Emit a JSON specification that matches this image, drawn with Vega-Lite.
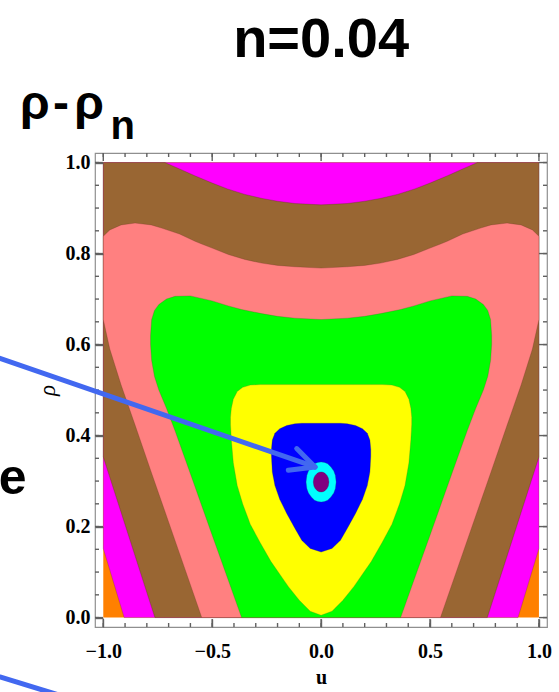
{
  "$schema": "https://vega.github.io/schema/vega-lite/v6.json",
  "width": 452,
  "height": 474,
  "autosize": "none",
  "padding": {"left": 95, "top": 153, "right": 12, "bottom": 65},
  "background": "white",
  "config": {"view": {"stroke": "#8f8f8f", "strokeWidth": 1.2}},
  "datasets": {
    "regions": [
      {"r": "L9", "u": -1, "lo": 0, "hi": 1},
      {"r": "L9", "u": 1, "lo": 0, "hi": 1},
      {"r": "L8", "u": -1, "lo": 0.152, "hi": 1},
      {"r": "L8", "u": -0.904, "lo": 0, "hi": 1},
      {"r": "L8", "u": 0.904, "lo": 0, "hi": 1},
      {"r": "L8", "u": 1, "lo": 0.152, "hi": 1},
      {"r": "L7", "u": -1, "lo": 0.353, "hi": 1},
      {"r": "L7", "u": -0.763, "lo": 0, "hi": 1},
      {"r": "L7", "u": -0.717, "lo": 0, "hi": 1},
      {"r": "L7", "u": -0.65, "lo": 0, "hi": 0.986},
      {"r": "L7", "u": -0.58, "lo": 0, "hi": 0.971},
      {"r": "L7", "u": -0.5, "lo": 0, "hi": 0.955},
      {"r": "L7", "u": -0.43, "lo": 0, "hi": 0.942},
      {"r": "L7", "u": -0.35, "lo": 0, "hi": 0.930},
      {"r": "L7", "u": -0.27, "lo": 0, "hi": 0.921},
      {"r": "L7", "u": -0.2, "lo": 0, "hi": 0.915},
      {"r": "L7", "u": -0.12, "lo": 0, "hi": 0.910},
      {"r": "L7", "u": 0, "lo": 0, "hi": 0.907},
      {"r": "L7", "u": 0.12, "lo": 0, "hi": 0.910},
      {"r": "L7", "u": 0.2, "lo": 0, "hi": 0.915},
      {"r": "L7", "u": 0.27, "lo": 0, "hi": 0.921},
      {"r": "L7", "u": 0.35, "lo": 0, "hi": 0.930},
      {"r": "L7", "u": 0.43, "lo": 0, "hi": 0.942},
      {"r": "L7", "u": 0.5, "lo": 0, "hi": 0.955},
      {"r": "L7", "u": 0.58, "lo": 0, "hi": 0.971},
      {"r": "L7", "u": 0.65, "lo": 0, "hi": 0.986},
      {"r": "L7", "u": 0.717, "lo": 0, "hi": 1},
      {"r": "L7", "u": 0.763, "lo": 0, "hi": 1},
      {"r": "L7", "u": 1, "lo": 0.353, "hi": 1},
      {"r": "L6", "u": -1, "lo": 0.655, "hi": 0.838},
      {"r": "L6", "u": -0.97, "lo": 0.59, "hi": 0.852},
      {"r": "L6", "u": -0.918, "lo": 0.511, "hi": 0.863},
      {"r": "L6", "u": -0.854, "lo": 0.423, "hi": 0.867},
      {"r": "L6", "u": -0.78, "lo": 0.320, "hi": 0.863},
      {"r": "L6", "u": -0.732, "lo": 0.254, "hi": 0.856},
      {"r": "L6", "u": -0.65, "lo": 0.141, "hi": 0.843},
      {"r": "L6", "u": -0.579, "lo": 0.043, "hi": 0.827},
      {"r": "L6", "u": -0.548, "lo": 0, "hi": 0.821},
      {"r": "L6", "u": -0.5, "lo": 0, "hi": 0.812},
      {"r": "L6", "u": -0.426, "lo": 0, "hi": 0.798},
      {"r": "L6", "u": -0.35, "lo": 0, "hi": 0.787},
      {"r": "L6", "u": -0.273, "lo": 0, "hi": 0.779},
      {"r": "L6", "u": -0.2, "lo": 0, "hi": 0.774},
      {"r": "L6", "u": -0.12, "lo": 0, "hi": 0.771},
      {"r": "L6", "u": 0, "lo": 0, "hi": 0.768},
      {"r": "L6", "u": 0.12, "lo": 0, "hi": 0.771},
      {"r": "L6", "u": 0.2, "lo": 0, "hi": 0.774},
      {"r": "L6", "u": 0.273, "lo": 0, "hi": 0.779},
      {"r": "L6", "u": 0.35, "lo": 0, "hi": 0.787},
      {"r": "L6", "u": 0.426, "lo": 0, "hi": 0.798},
      {"r": "L6", "u": 0.5, "lo": 0, "hi": 0.812},
      {"r": "L6", "u": 0.548, "lo": 0, "hi": 0.821},
      {"r": "L6", "u": 0.579, "lo": 0.043, "hi": 0.827},
      {"r": "L6", "u": 0.65, "lo": 0.141, "hi": 0.843},
      {"r": "L6", "u": 0.732, "lo": 0.254, "hi": 0.856},
      {"r": "L6", "u": 0.78, "lo": 0.320, "hi": 0.863},
      {"r": "L6", "u": 0.854, "lo": 0.423, "hi": 0.867},
      {"r": "L6", "u": 0.918, "lo": 0.511, "hi": 0.863},
      {"r": "L6", "u": 0.97, "lo": 0.59, "hi": 0.852},
      {"r": "L6", "u": 1, "lo": 0.655, "hi": 0.838},
      {"r": "L5", "u": -0.783, "lo": 0.60, "hi": 0.62},
      {"r": "L5", "u": -0.778, "lo": 0.565, "hi": 0.655},
      {"r": "L5", "u": -0.765, "lo": 0.53, "hi": 0.675},
      {"r": "L5", "u": -0.745, "lo": 0.50, "hi": 0.688},
      {"r": "L5", "u": -0.71, "lo": 0.46, "hi": 0.700},
      {"r": "L5", "u": -0.671, "lo": 0.411, "hi": 0.706},
      {"r": "L5", "u": -0.6, "lo": 0.316, "hi": 0.707},
      {"r": "L5", "u": -0.5, "lo": 0.181, "hi": 0.696},
      {"r": "L5", "u": -0.426, "lo": 0.082, "hi": 0.685},
      {"r": "L5", "u": -0.365, "lo": 0, "hi": 0.677},
      {"r": "L5", "u": -0.273, "lo": 0, "hi": 0.668},
      {"r": "L5", "u": -0.2, "lo": 0, "hi": 0.662},
      {"r": "L5", "u": -0.12, "lo": 0, "hi": 0.658},
      {"r": "L5", "u": 0, "lo": 0, "hi": 0.655},
      {"r": "L5", "u": 0.12, "lo": 0, "hi": 0.658},
      {"r": "L5", "u": 0.2, "lo": 0, "hi": 0.662},
      {"r": "L5", "u": 0.273, "lo": 0, "hi": 0.668},
      {"r": "L5", "u": 0.365, "lo": 0, "hi": 0.677},
      {"r": "L5", "u": 0.426, "lo": 0.082, "hi": 0.685},
      {"r": "L5", "u": 0.5, "lo": 0.181, "hi": 0.696},
      {"r": "L5", "u": 0.6, "lo": 0.316, "hi": 0.707},
      {"r": "L5", "u": 0.671, "lo": 0.411, "hi": 0.706},
      {"r": "L5", "u": 0.71, "lo": 0.46, "hi": 0.700},
      {"r": "L5", "u": 0.745, "lo": 0.50, "hi": 0.688},
      {"r": "L5", "u": 0.765, "lo": 0.53, "hi": 0.675},
      {"r": "L5", "u": 0.778, "lo": 0.565, "hi": 0.655},
      {"r": "L5", "u": 0.783, "lo": 0.60, "hi": 0.62},
      {"r": "L4", "u": -0.416, "lo": 0.425, "hi": 0.44},
      {"r": "L4", "u": -0.412, "lo": 0.39, "hi": 0.46},
      {"r": "L4", "u": -0.403, "lo": 0.34, "hi": 0.48},
      {"r": "L4", "u": -0.385, "lo": 0.29, "hi": 0.497},
      {"r": "L4", "u": -0.36, "lo": 0.25, "hi": 0.506},
      {"r": "L4", "u": -0.325, "lo": 0.205, "hi": 0.511},
      {"r": "L4", "u": -0.28, "lo": 0.165, "hi": 0.512},
      {"r": "L4", "u": -0.23, "lo": 0.123, "hi": 0.512},
      {"r": "L4", "u": -0.15, "lo": 0.068, "hi": 0.512},
      {"r": "L4", "u": -0.1, "lo": 0.038, "hi": 0.512},
      {"r": "L4", "u": -0.05, "lo": 0.014, "hi": 0.512},
      {"r": "L4", "u": 0, "lo": 0.005, "hi": 0.512},
      {"r": "L4", "u": 0.05, "lo": 0.014, "hi": 0.512},
      {"r": "L4", "u": 0.1, "lo": 0.038, "hi": 0.512},
      {"r": "L4", "u": 0.15, "lo": 0.068, "hi": 0.512},
      {"r": "L4", "u": 0.23, "lo": 0.123, "hi": 0.512},
      {"r": "L4", "u": 0.28, "lo": 0.165, "hi": 0.512},
      {"r": "L4", "u": 0.325, "lo": 0.205, "hi": 0.511},
      {"r": "L4", "u": 0.36, "lo": 0.25, "hi": 0.506},
      {"r": "L4", "u": 0.385, "lo": 0.29, "hi": 0.497},
      {"r": "L4", "u": 0.403, "lo": 0.34, "hi": 0.48},
      {"r": "L4", "u": 0.412, "lo": 0.39, "hi": 0.46},
      {"r": "L4", "u": 0.416, "lo": 0.425, "hi": 0.44},
      {"r": "L3", "u": -0.228, "lo": 0.355, "hi": 0.37},
      {"r": "L3", "u": -0.224, "lo": 0.32, "hi": 0.39},
      {"r": "L3", "u": -0.212, "lo": 0.29, "hi": 0.405},
      {"r": "L3", "u": -0.19, "lo": 0.26, "hi": 0.415},
      {"r": "L3", "u": -0.158, "lo": 0.229, "hi": 0.422},
      {"r": "L3", "u": -0.12, "lo": 0.196, "hi": 0.426},
      {"r": "L3", "u": -0.089, "lo": 0.17, "hi": 0.427},
      {"r": "L3", "u": -0.05, "lo": 0.152, "hi": 0.427},
      {"r": "L3", "u": 0, "lo": 0.144, "hi": 0.427},
      {"r": "L3", "u": 0.05, "lo": 0.152, "hi": 0.427},
      {"r": "L3", "u": 0.089, "lo": 0.17, "hi": 0.427},
      {"r": "L3", "u": 0.12, "lo": 0.196, "hi": 0.426},
      {"r": "L3", "u": 0.158, "lo": 0.229, "hi": 0.422},
      {"r": "L3", "u": 0.19, "lo": 0.26, "hi": 0.415},
      {"r": "L3", "u": 0.212, "lo": 0.29, "hi": 0.405},
      {"r": "L3", "u": 0.224, "lo": 0.32, "hi": 0.39},
      {"r": "L3", "u": 0.228, "lo": 0.355, "hi": 0.37},
      {"r": "L2", "u": -0.069, "lo": 0.298, "hi": 0.298},
      {"r": "L2", "u": -0.065, "lo": 0.283, "hi": 0.313},
      {"r": "L2", "u": -0.058, "lo": 0.274, "hi": 0.322},
      {"r": "L2", "u": -0.045, "lo": 0.265, "hi": 0.331},
      {"r": "L2", "u": -0.03, "lo": 0.258, "hi": 0.338},
      {"r": "L2", "u": -0.015, "lo": 0.255, "hi": 0.341},
      {"r": "L2", "u": 0, "lo": 0.254, "hi": 0.342},
      {"r": "L2", "u": 0.015, "lo": 0.255, "hi": 0.341},
      {"r": "L2", "u": 0.03, "lo": 0.258, "hi": 0.338},
      {"r": "L2", "u": 0.045, "lo": 0.265, "hi": 0.331},
      {"r": "L2", "u": 0.058, "lo": 0.274, "hi": 0.322},
      {"r": "L2", "u": 0.065, "lo": 0.283, "hi": 0.313},
      {"r": "L2", "u": 0.069, "lo": 0.298, "hi": 0.298},
      {"r": "L1", "u": -0.036, "lo": 0.298, "hi": 0.298},
      {"r": "L1", "u": -0.033, "lo": 0.289, "hi": 0.307},
      {"r": "L1", "u": -0.027, "lo": 0.2835, "hi": 0.3125},
      {"r": "L1", "u": -0.018, "lo": 0.279, "hi": 0.317},
      {"r": "L1", "u": -0.009, "lo": 0.2767, "hi": 0.3193},
      {"r": "L1", "u": 0, "lo": 0.276, "hi": 0.320},
      {"r": "L1", "u": 0.009, "lo": 0.2767, "hi": 0.3193},
      {"r": "L1", "u": 0.018, "lo": 0.279, "hi": 0.317},
      {"r": "L1", "u": 0.027, "lo": 0.2835, "hi": 0.3125},
      {"r": "L1", "u": 0.033, "lo": 0.289, "hi": 0.307},
      {"r": "L1", "u": 0.036, "lo": 0.298, "hi": 0.298}
    ],
    "xt": [
      {"v": -1, "major": 1}, {"v": -0.9, "major": 0}, {"v": -0.8, "major": 0}, {"v": -0.7, "major": 0}, {"v": -0.6, "major": 0},
      {"v": -0.5, "major": 1}, {"v": -0.4, "major": 0}, {"v": -0.3, "major": 0}, {"v": -0.2, "major": 0}, {"v": -0.1, "major": 0},
      {"v": 0, "major": 1}, {"v": 0.1, "major": 0}, {"v": 0.2, "major": 0}, {"v": 0.3, "major": 0}, {"v": 0.4, "major": 0},
      {"v": 0.5, "major": 1}, {"v": 0.6, "major": 0}, {"v": 0.7, "major": 0}, {"v": 0.8, "major": 0}, {"v": 0.9, "major": 0},
      {"v": 1, "major": 1}
    ],
    "yt": [
      {"v": 0, "major": 1}, {"v": 0.05, "major": 0}, {"v": 0.1, "major": 0}, {"v": 0.15, "major": 0},
      {"v": 0.2, "major": 1}, {"v": 0.25, "major": 0}, {"v": 0.3, "major": 0}, {"v": 0.35, "major": 0},
      {"v": 0.4, "major": 1}, {"v": 0.45, "major": 0}, {"v": 0.5, "major": 0}, {"v": 0.55, "major": 0},
      {"v": 0.6, "major": 1}, {"v": 0.65, "major": 0}, {"v": 0.7, "major": 0}, {"v": 0.75, "major": 0},
      {"v": 0.8, "major": 1}, {"v": 0.85, "major": 0}, {"v": 0.9, "major": 0}, {"v": 0.95, "major": 0},
      {"v": 1, "major": 1}
    ],
    "arrows": [
      {"u": -1.4743, "lo": 0.5699, "u2": -0.028, "hi": 0.331},
      {"u": -0.112, "lo": 0.3714, "u2": -0.028, "hi": 0.331},
      {"u": -0.1506, "lo": 0.3237, "u2": -0.028, "hi": 0.331},
      {"u": -1.4743, "lo": -0.1305, "u2": -1.199, "hi": -0.1708}
    ],
    "texts": [
      {"k": "title", "t": "n=0.04", "u": 0, "lo": 1.2314},
      {"k": "main", "t": "ρ", "u": -1.3825, "lo": 1.095},
      {"k": "main", "t": "-", "u": -1.231, "lo": 1.095},
      {"k": "main", "t": "ρ", "u": -1.133, "lo": 1.095},
      {"k": "sub", "t": "n", "u": -0.967, "lo": 1.0512},
      {"k": "side", "t": "e", "u": -1.352, "lo": 0.271}
    ]
  },
  "layer": [
    {
      "data": {"name": "regions"},
      "transform": [{"filter": "datum.r == 'L9'"}],
      "mark": {"type": "area", "color": "#ff8000"},
      "encoding": {
        "x": {"field": "u", "type": "quantitative", "scale": {"domain": [-1.038, 1.037], "nice": false, "zero": false},
          "axis": {"orient": "bottom", "values": [-1, -0.5, 0, 0.5, 1], "offset": -8, "tickSize": 8, "format": ".1f",
            "labelOverlap": false, "labelFlush": false, "labelBound": false,
            "labelFont": "Liberation Serif", "labelFontWeight": "bold", "labelFontSize": 20, "labelColor": "black", "labelPadding": 14,
            "domain": false, "grid": false, "tickColor": "#606060", "tickWidth": 1.4, "zindex": 2,
            "title": "u", "titleFont": "Liberation Serif", "titleFontWeight": "bold", "titleFontSize": 20, "titleColor": "black", "titlePadding": 6}},
        "y": {"field": "lo", "type": "quantitative", "scale": {"domain": [-0.0207, 1.021], "nice": false, "zero": false},
          "axis": {"orient": "left", "values": [0, 0.2, 0.4, 0.6, 0.8, 1], "offset": -8, "tickSize": 8, "format": ".1f",
            "labelOverlap": false, "labelFlush": false, "labelBound": false,
            "labelFont": "Liberation Serif", "labelFontWeight": "bold", "labelFontSize": 20, "labelColor": "black", "labelPadding": 5,
            "domain": false, "grid": false, "tickColor": "#606060", "tickWidth": 1.4, "zindex": 2,
            "title": "ρ", "titleFont": "Liberation Serif", "titleFontStyle": "italic", "titleFontWeight": "normal", "titleFontSize": 23, "titleColor": "black", "titlePadding": 6}},
        "y2": {"field": "hi"}
      }
    },
    {"data": {"name": "regions"}, "transform": [{"filter": "datum.r == 'L8'"}],
      "mark": {"type": "area", "color": "#ff00ff", "stroke": "#5a2a40", "strokeWidth": 0.6, "strokeOpacity": 0.45},
      "encoding": {"x": {"field": "u", "type": "quantitative", "axis": null}, "y": {"field": "lo", "type": "quantitative", "axis": null}, "y2": {"field": "hi"}}},
    {"data": {"name": "regions"}, "transform": [{"filter": "datum.r == 'L7'"}],
      "mark": {"type": "area", "color": "#996633", "stroke": "#4a2a10", "strokeWidth": 0.6, "strokeOpacity": 0.45},
      "encoding": {"x": {"field": "u", "type": "quantitative", "axis": null}, "y": {"field": "lo", "type": "quantitative", "axis": null}, "y2": {"field": "hi"}}},
    {"data": {"name": "regions"}, "transform": [{"filter": "datum.r == 'L6'"}],
      "mark": {"type": "area", "color": "#ff8080", "stroke": "#6a3020", "strokeWidth": 0.6, "strokeOpacity": 0.45},
      "encoding": {"x": {"field": "u", "type": "quantitative", "axis": null}, "y": {"field": "lo", "type": "quantitative", "axis": null}, "y2": {"field": "hi"}}},
    {"data": {"name": "regions"}, "transform": [{"filter": "datum.r == 'L5'"}],
      "mark": {"type": "area", "color": "#00ff00", "stroke": "#406020", "strokeWidth": 0.6, "strokeOpacity": 0.45},
      "encoding": {"x": {"field": "u", "type": "quantitative", "axis": null}, "y": {"field": "lo", "type": "quantitative", "axis": null}, "y2": {"field": "hi"}}},
    {"data": {"name": "regions"}, "transform": [{"filter": "datum.r == 'L4'"}],
      "mark": {"type": "area", "color": "#ffff00", "stroke": "#607020", "strokeWidth": 0.6, "strokeOpacity": 0.45},
      "encoding": {"x": {"field": "u", "type": "quantitative", "axis": null}, "y": {"field": "lo", "type": "quantitative", "axis": null}, "y2": {"field": "hi"}}},
    {"data": {"name": "regions"}, "transform": [{"filter": "datum.r == 'L3'"}],
      "mark": {"type": "area", "color": "#0000ff", "stroke": "#202060", "strokeWidth": 0.6, "strokeOpacity": 0.45},
      "encoding": {"x": {"field": "u", "type": "quantitative", "axis": null}, "y": {"field": "lo", "type": "quantitative", "axis": null}, "y2": {"field": "hi"}}},
    {"data": {"name": "regions"}, "transform": [{"filter": "datum.r == 'L2'"}],
      "mark": {"type": "area", "color": "#00ffff", "stroke": "#206060", "strokeWidth": 0.6, "strokeOpacity": 0.45},
      "encoding": {"x": {"field": "u", "type": "quantitative", "axis": null}, "y": {"field": "lo", "type": "quantitative", "axis": null}, "y2": {"field": "hi"}}},
    {"data": {"name": "regions"}, "transform": [{"filter": "datum.r == 'L1'"}],
      "mark": {"type": "area", "color": "#800080", "stroke": "#400040", "strokeWidth": 0.6, "strokeOpacity": 0.45},
      "encoding": {"x": {"field": "u", "type": "quantitative", "axis": null}, "y": {"field": "lo", "type": "quantitative", "axis": null}, "y2": {"field": "hi"}}},
    {"data": {"name": "xt"},
      "mark": {"type": "rule", "color": "#606060", "strokeWidth": 1.4},
      "encoding": {"x": {"field": "v", "type": "quantitative", "axis": null}, "y": {"datum": -0.0207, "type": "quantitative", "axis": null}, "y2": {"datum": -0.0119}}},
    {"data": {"name": "xt"}, "transform": [{"filter": "datum.major == 1"}],
      "mark": {"type": "rule", "color": "#606060", "strokeWidth": 1.4},
      "encoding": {"x": {"field": "v", "type": "quantitative", "axis": null}, "y": {"datum": -0.0207, "type": "quantitative", "axis": null}, "y2": {"datum": -0.0031}}},
    {"data": {"name": "xt"},
      "mark": {"type": "rule", "color": "#606060", "strokeWidth": 1.4},
      "encoding": {"x": {"field": "v", "type": "quantitative", "axis": null}, "y": {"datum": 1.021, "type": "quantitative", "axis": null}, "y2": {"datum": 1.0122}}},
    {"data": {"name": "xt"}, "transform": [{"filter": "datum.major == 1"}],
      "mark": {"type": "rule", "color": "#606060", "strokeWidth": 1.4},
      "encoding": {"x": {"field": "v", "type": "quantitative", "axis": null}, "y": {"datum": 1.021, "type": "quantitative", "axis": null}, "y2": {"datum": 1.0034}}},
    {"data": {"name": "yt"},
      "mark": {"type": "rule", "color": "#606060", "strokeWidth": 1.4},
      "encoding": {"y": {"field": "v", "type": "quantitative", "axis": null}, "x": {"datum": -1.038, "type": "quantitative", "axis": null}, "x2": {"datum": -1.0196}}},
    {"data": {"name": "yt"}, "transform": [{"filter": "datum.major == 1"}],
      "mark": {"type": "rule", "color": "#606060", "strokeWidth": 1.4},
      "encoding": {"y": {"field": "v", "type": "quantitative", "axis": null}, "x": {"datum": -1.038, "type": "quantitative", "axis": null}, "x2": {"datum": -1.0013}}},
    {"data": {"name": "yt"},
      "mark": {"type": "rule", "color": "#606060", "strokeWidth": 1.4},
      "encoding": {"y": {"field": "v", "type": "quantitative", "axis": null}, "x": {"datum": 1.037, "type": "quantitative", "axis": null}, "x2": {"datum": 1.0186}}},
    {"data": {"name": "yt"}, "transform": [{"filter": "datum.major == 1"}],
      "mark": {"type": "rule", "color": "#606060", "strokeWidth": 1.4},
      "encoding": {"y": {"field": "v", "type": "quantitative", "axis": null}, "x": {"datum": 1.037, "type": "quantitative", "axis": null}, "x2": {"datum": 1.0003}}},
    {
      "data": {"name": "arrows"},
      "mark": {"type": "rule", "color": "#4268f0", "strokeWidth": 5, "strokeCap": "round"},
      "encoding": {
        "x": {"field": "u", "type": "quantitative", "axis": null},
        "y": {"field": "lo", "type": "quantitative", "axis": null},
        "x2": {"field": "u2"},
        "y2": {"field": "hi"}
      }
    },
    {"data": {"name": "texts"}, "transform": [{"filter": "datum.k == 'title'"}],
      "mark": {"type": "text", "font": "Liberation Sans", "fontWeight": "bold", "fontSize": 56, "align": "center", "baseline": "alphabetic", "color": "black"},
      "encoding": {"x": {"field": "u", "type": "quantitative", "axis": null}, "y": {"field": "lo", "type": "quantitative", "axis": null}, "text": {"field": "t"}}},
    {"data": {"name": "texts"}, "transform": [{"filter": "datum.k == 'main'"}],
      "mark": {"type": "text", "font": "Liberation Sans", "fontWeight": "bold", "fontSize": 48, "align": "left", "baseline": "alphabetic", "color": "black"},
      "encoding": {"x": {"field": "u", "type": "quantitative", "axis": null}, "y": {"field": "lo", "type": "quantitative", "axis": null}, "text": {"field": "t"}}},
    {"data": {"name": "texts"}, "transform": [{"filter": "datum.k == 'sub'"}],
      "mark": {"type": "text", "font": "Liberation Sans", "fontWeight": "bold", "fontSize": 40, "align": "left", "baseline": "alphabetic", "color": "black"},
      "encoding": {"x": {"field": "u", "type": "quantitative", "axis": null}, "y": {"field": "lo", "type": "quantitative", "axis": null}, "text": {"field": "t"}}},
    {"data": {"name": "texts"}, "transform": [{"filter": "datum.k == 'side'"}],
      "mark": {"type": "text", "font": "Liberation Sans", "fontWeight": "bold", "fontSize": 50, "align": "right", "baseline": "alphabetic", "color": "black"},
      "encoding": {"x": {"field": "u", "type": "quantitative", "axis": null}, "y": {"field": "lo", "type": "quantitative", "axis": null}, "text": {"field": "t"}}}
  ],
  "resolve": {"axis": {"x": "independent", "y": "independent"}}
}
